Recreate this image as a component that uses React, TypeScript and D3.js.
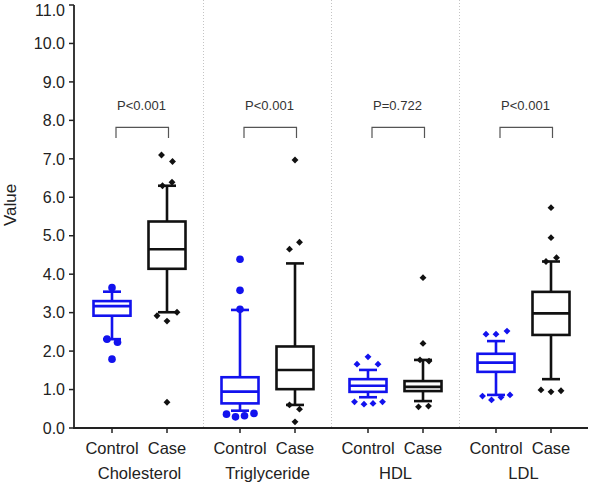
import React from "react";
import * as d3 from "d3";

const groups = ["Cholesterol", "Triglyceride", "HDL", "LDL"];
const conditions = ["Control", "Case"];
const pValues = ["P<0.001", "P<0.001", "P=0.722", "P<0.001"];
const yTicks = [0, 1, 2, 3, 4, 5, 6, 7, 8, 9, 10, 11];

// [lower whisker, Q1, median, Q3, upper whisker]
const controlStats = [
  [2.31, 2.92, 3.17, 3.3, 3.545],
  [0.45, 0.64, 0.945, 1.32, 3.07],
  [0.8, 0.94, 1.1, 1.27, 1.51],
  [0.86, 1.46, 1.7, 1.93, 2.26],
];
const caseStats = [
  [3.01, 4.14, 4.65, 5.37, 6.3],
  [0.6, 1.01, 1.51, 2.12, 4.28],
  [0.7, 0.96, 1.07, 1.22, 1.77],
  [1.27, 2.42, 2.98, 3.54, 4.33],
];
// outliers: [value, jitter]
const controlOutliers = [
  [[3.65, 0], [2.31, -1], [2.23, 1.1], [1.79, 0]],
  [[4.39, 0], [3.58, 0], [3.09, 0], [0.36, -2.7], [0.29, -0.9], [0.32, 0.9], [0.38, 2.8]],
  [[1.85, 0], [1.66, -2.2], [1.66, 2], [0.68, -2.7], [0.62, -0.8], [0.64, 1], [0.68, 2.9]],
  [[2.44, -2], [2.44, 0], [2.52, 2.2], [0.83, -2.7], [0.73, -0.9], [0.8, 1], [0.86, 2.8]],
];
const caseOutliers = [
  [[7.1, -1.1], [6.93, 1.1], [6.3, -0.9], [6.39, 1], [2.92, -2], [3.01, 2], [2.78, 0], [0.67, 0]],
  [[6.97, 0], [4.65, -1.1], [4.83, 0.9], [0.6, -1.1], [0.49, 0.9], [0.16, 0]],
  [[3.91, 0], [2.2, 0], [1.77, -0.6], [1.74, 1.2], [0.55, -0.9], [0.57, 1.1]],
  [[5.73, 0], [4.95, 0], [4.33, -1], [4.43, 1.1], [0.99, -2], [0.94, 0], [0.97, 2]],
];
const controlMarker = ["circle", "circle", "diamond", "diamond"];

const W = 592;
const H = 485;
const FONT = "'Liberation Sans', Arial, Helvetica, sans-serif";
const BLUE = "#1212ee";

export default function App() {
  const y = d3.scaleLinear().domain([0, 11]).range([428, 5]);
  const xg = d3.scaleBand().domain(groups).range([75.5, 587.5]).padding(0);
  const xc = d3.scalePoint().domain(conditions).range([-27.5, 27.5]);
  const center = (g: string) => (xg(g) as number) + xg.bandwidth() / 2;
  const pos = (g: string, c: string) => center(g) + (xc(c) as number);
  const boxW = 37;
  const capW = 18;
  const jit = 5;
  const diamond = d3.symbol().type(d3.symbolDiamond2).size(30)();

  const renderBox = (g: string, c: string, s: number[], color: string, outs: number[][], marker: string, key: string) => {
    const cx = pos(g, c);
    const [lo, q1, med, q3, hi] = s;
    return (
      <g key={key}>
        <line x1={cx} x2={cx} y1={y(hi)} y2={y(q3)} stroke={color} strokeWidth={2.6} />
        <line x1={cx} x2={cx} y1={y(q1)} y2={y(lo)} stroke={color} strokeWidth={2.6} />
        <line x1={cx - capW / 2} x2={cx + capW / 2} y1={y(hi)} y2={y(hi)} stroke={color} strokeWidth={2.6} />
        <line x1={cx - capW / 2} x2={cx + capW / 2} y1={y(lo)} y2={y(lo)} stroke={color} strokeWidth={2.6} />
        <rect x={cx - boxW / 2} y={y(q3)} width={boxW} height={y(q1) - y(q3)} fill="white" stroke={color} strokeWidth={2.6} />
        <line x1={cx - boxW / 2} x2={cx + boxW / 2} y1={y(med)} y2={y(med)} stroke={color} strokeWidth={2.6} />
        {outs.map((o, i) =>
          marker === "circle" ? (
            <circle key={i} cx={cx + o[1] * jit} cy={y(o[0])} r={3.8} fill={color} />
          ) : (
            <path key={i} d={diamond as string} transform={`translate(${cx + o[1] * jit},${y(o[0])})`} fill={color} />
          )
        )}
      </g>
    );
  };

  return (
    <svg width={W} height={H} style={{ position: "absolute", left: 0, top: 0, background: "white" }} fontFamily={FONT}>
      {/* separators */}
      {groups.slice(1).map((g) => (
        <line key={g} x1={xg(g)} x2={xg(g)} y1={0} y2={y(0)} stroke="#c4c4c4" strokeWidth={1} strokeDasharray="1,2" />
      ))}
      {/* y axis */}
      <line x1={74} x2={74} y1={y(11)} y2={y(0)} stroke="#222" strokeWidth={1.8} />
      {yTicks.map((t) => (
        <g key={t}>
          <line x1={69} x2={74} y1={y(t)} y2={y(t)} stroke="#222" strokeWidth={1.5} />
          <text x={65} y={Math.max(y(t), 10)} dy="0.36em" textAnchor="end" fontSize={16} fill="#222">
            {t.toFixed(1)}
          </text>
        </g>
      ))}
      <text transform={`translate(16,${205}) rotate(-90)`} textAnchor="middle" fontSize={17} fill="#222">
        Value
      </text>
      {/* x axis */}
      <line x1={73} x2={588} y1={y(0)} y2={y(0)} stroke="#222" strokeWidth={1.8} />
      {groups.map((g, gi) => (
        <g key={g}>
          {conditions.map((c) => (
            <g key={c}>
              <line x1={pos(g, c)} x2={pos(g, c)} y1={y(0)} y2={y(0) + 5} stroke="#222" strokeWidth={1.5} />
              <text x={pos(g, c)} y={454} textAnchor="middle" fontSize={16.5} fill="#222">
                {c}
              </text>
            </g>
          ))}
          <text x={center(g)} y={479} textAnchor="middle" fontSize={16.5} fill="#222">
            {g}
          </text>
          {/* bracket */}
          <path
            d={`M${pos(g, "Control") + 4},${y(7.54)}V${y(7.82)}H${pos(g, "Case") + 1.5}V${y(7.54)}`}
            fill="none"
            stroke="#555"
            strokeWidth={1.2}
          />
          <text x={center(g) + 2} y={y(8.27)} textAnchor="middle" fontSize={13} fill="#333">
            {pValues[gi]}
          </text>
          {renderBox(g, "Control", controlStats[gi], BLUE, controlOutliers[gi], controlMarker[gi], "ctl")}
          {renderBox(g, "Case", caseStats[gi], "#111", caseOutliers[gi], "diamond", "case")}
        </g>
      ))}
    </svg>
  );
}
